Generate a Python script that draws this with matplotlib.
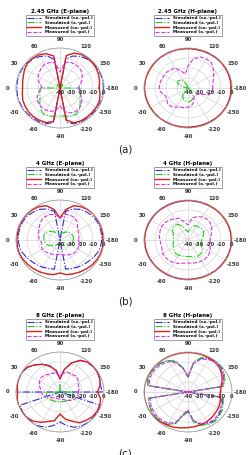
import numpy as np
import matplotlib.pyplot as plt
from matplotlib.transforms import offset_copy

# angle grid (deg), 0 at left, clockwise to 90 on top
angles = np.arange(-180, 190, 10)

# ---- 2.45 GHz E-plane ----
e245_sim_co = [-0.5, -0.6, -0.5, -0.5, -0.7, -1.0, -1.2, -1.8, -5, -40, -5, -1.8, -1.2, -1.0, -0.7, -0.5, -0.5, -0.6,
               -0.8, -0.6, -0.5, -0.6, -1.0, -2, -3.5, -6, -11, -40, -11, -6, -3.5, -2, -1.0, -0.6, -0.5, -0.6, -0.5]
e245_sim_x = [-22, -21.5, -20.5, -19, -16, -12.5, -10, -10.2, -11.5, -12, -11.5, -10.2, -10, -12.5, -16, -19, -20.5, -21.5,
              -22, -40, -40, -40, -38, -36, -36, -38, -40, -40, -40, -38, -36, -36, -38, -40, -40, -40, -22]
e245_meas_co = [-4.4, -3, -2, -1.8, -2, -2, -2, -3, -7.5, -40, -6, -3.2, -2.6, -2.5, -2.8, -3.4, -4, -5.2,
                -6, -5.5, -4.5, -2.8, -1.5, -1.2, -1.6, -3.5, -7.5, -40, -7, -3, -1.2, -1, -1.2, -1.6, -2.5, -3.5, -4.4]
e245_meas_x = [-23, -22, -20, -17, -14.5, -13, -12.5, -13.5, -16, -22, -17, -15, -14.5, -14.5, -15, -16, -18, -21,
               -24, -22, -19, -17, -15.5, -13.5, -12.5, -12.8, -14, -24, -14, -12.5, -12.5, -13, -14.5, -16.5, -19, -21.5, -23]

# ---- 2.45 GHz H-plane ----
h245_sim_co = [-0.3, -0.3, -0.2, -0.2, -0.3, -0.3, -0.4, -0.4, -0.3, -0.3, -0.2, -0.2, -0.3, -0.3, -0.3, -0.4, -0.3, -0.3,
               -0.2, -0.2, -0.3, -0.3, -0.4, -0.3, -0.3, -0.2, -0.3, -0.3, -0.4, -0.4, -0.3, -0.3, -0.2, -0.3, -0.3, -0.3, -0.3]
h245_sim_x = [-40, -40, -40, -40, -40, -34, -30.5, -28, -26.5, -26, -26.5, -28, -30, -33, -40, -40, -40, -40,
              -40, -36, -31, -29, -28.5, -29.5, -32, -36, -40, -40, -40, -40, -40, -40, -40, -40, -40, -40, -40]
h245_meas_co = [-0.8, -0.7, -0.6, -0.5, -0.5, -0.6, -0.7, -0.8, -0.8, -0.7, -0.6, -0.5, -0.4, -0.4, -0.5, -0.6, -0.6, -0.5,
                -0.4, -0.4, -0.5, -0.6, -0.6, -0.5, -0.4, -0.4, -0.5, -0.6, -0.7, -0.7, -0.6, -0.5, -0.5, -0.6, -0.7, -0.8, -0.8]
h245_meas_x = [-17.5, -17.5, -20, -28, -30, -30, -29, -25, -22, -21, -20, -19.5, -18, -16, -15.5, -18, -18, -15,
               -14, -14, -14.5, -15, -15, -16, -17, -22, -26, -18, -10, -7, -6.5, -7, -10, -13, -15.5, -17, -17.5]

# ---- 4 GHz E-plane ----
e4_sim_co = [-2, -2.5, -3.5, -5, -6.5, -7.5, -8.5, -9.5, -10.5, -40, -10.5, -9.5, -8.5, -7.5, -6.5, -5, -3.5, -2.5,
             -2, -1.8, -1.5, -1.5, -2, -3, -4.5, -7, -11, -40, -11, -7, -4.5, -3, -2, -1.5, -1.5, -1.8, -2]
e4_sim_x = [-28, -28, -28.5, -29.5, -31, -33, -34, -34.5, -35, -35, -35, -34.5, -34, -33, -31, -29, -27, -26,
            -25.5, -25, -24.5, -25, -26.5, -29, -31, -32.5, -33, -33, -33, -32.5, -31, -29.5, -28.5, -28, -27.5, -27.5, -28]
e4_meas_co = [-0.9, -0.6, -0.7, -1, -1.6, -2.4, -3.2, -4, -4.8, -7, -4.8, -4, -3.2, -2.5, -1.8, -1.2, -0.7, -0.6,
              -0.9, -0.7, -0.5, -0.3, -0.3, -0.6, -1.5, -3.5, -9, -18, -9, -3.5, -1.5, -0.5, -0.2, -0.2, -0.4, -0.7, -0.9]
e4_meas_x = [-23, -22.5, -22, -21.5, -21.5, -22, -23, -24, -25, -26, -25, -24.5, -24, -23, -22, -21.5, -22, -23,
             -22, -20, -19, -18, -16, -14, -13, -13, -14, -18, -14, -13.5, -14, -16, -19, -21, -22, -22.5, -23]

# ---- 4 GHz H-plane ----
h4_sim_co = [-0.3, -0.2, -0.2, -0.3, -0.4, -0.3, -0.2, -0.2, -0.3, -0.3, -0.2, -0.1, -0.2, -0.3, -0.3, -0.2, -0.2, -0.3,
             -0.3, -0.4, -0.4, -0.3, -0.3, -0.4, -0.5, -0.4, -0.3, -0.3, -0.4, -0.5, -0.4, -0.3, -0.3, -0.2, -0.2, -0.3, -0.3]
h4_sim_x = [-27.6, -27.6, -27, -25, -23, -22, -21.6, -22, -23, -23.6, -23.5, -23, -22.5, -22.5, -23.5, -25, -25.5, -26.5,
            -27, -26.5, -26, -24, -22, -21, -22, -25, -30, -32, -28, -25, -24, -23.5, -23, -23.5, -25, -27, -27.6]
h4_meas_co = [-0.6, -0.5, -0.5, -0.6, -0.6, -0.5, -0.5, -0.6, -0.7, -0.6, -0.5, -0.5, -0.6, -0.6, -0.5, -0.5, -0.6, -0.6,
              -0.5, -0.5, -0.6, -0.6, -0.5, -0.5, -0.6, -0.7, -0.6, -0.5, -0.5, -0.6, -0.6, -0.5, -0.5, -0.6, -0.6, -0.6, -0.6]
h4_meas_x = [-20, -19.5, -18.4, -17, -15.8, -15.5, -15.5, -16, -16.5, -17, -16.5, -15, -14, -13.2, -13, -13.5, -14.8, -15,
             -14.5, -13.5, -13, -12.5, -12.8, -14, -15.5, -16.8, -22, -25, -17.6, -15, -13.5, -12.8, -13.5, -15, -17, -19, -20]

# ---- 8 GHz E-plane ----
e8_sim_co = [-1.5, -40, -1.5, -0.5, -0.3, -0.3, -0.8, -2.5, -6, -10, -6, -2.5, -0.8, -0.3, -0.3, -0.5, -1.5, -40,
             -1, -0.5, -0.2, -0.3, -1.5, -4.5, -8, -12, -17, -26, -17, -9, -3.5, -1.2, -0.7, -0.7, -1.5, -2.5, -1.5]
e8_sim_x = [-28, -28, -27, -27, -28, -29, -29.5, -30, -30, -30, -30, -30, -29.5, -29, -28, -27, -27, -27.5,
            -28, -40, -40, -40, -40, -40, -40, -40, -40, -33, -40, -40, -40, -40, -40, -40, -40, -40, -28]
e8_meas_co = [-6, -2.5, -1.5, -1.2, -1.5, -3, -4.5, -9, -12.5, -18, -11, -8.5, -5, -2, -0.5, 0, 0, -0.5,
              -1.5, -0.5, 0, 0, -1.5, -4.5, -8, -12.5, -18, -27, -17, -9, -3.5, -1, -0.5, -0.5, -1.5, -3, -6]
e8_meas_x = [-23, -23.5, -24, -25, -27, -29, -31, -32, -33, -33, -33, -33, -33, -32, -31, -29, -27, -24,
             -23, -22, -20, -18.5, -17.5, -18, -19.5, -20, -21, -24, -21, -19, -19.5, -18.5, -19, -21, -22, -22.5, -23]

# ---- 8 GHz H-plane ----
h8_sim_co = [-40, -8, -6.5, -5, -3.5, -2.5, -3.5, -5.5, -10, -21, -17, -6.5, -2.5, -1.6, -1.4, -1.8, -2.5, -3.5,
             -40, -3, -1.2, -1, -1.2, -2, -3.5, -7.5, -16, -25, -10, -4, -1.5, -0.5, -1, -2.8, -5, -7.6, -40]
h8_sim_x = [-40, -7.5, -6, -4, -2.8, -1.8, -2.5, -4.5, -9, -20, -16, -6.5, -2.5, -1.6, -1.4, -1.8, -2.5, -3.5,
            -40, -3, -1.2, -1, -1.2, -2, -3.5, -7.5, -16, -24, -9, -3, -0.8, -0.2, -0.5, -2, -4.5, -7, -40]
h8_meas_co = [-10.5, -10, -9, -8, -7.5, -6.5, -5.8, -5.2, -4.8, -4.4, -3.5, -2.5, -1.8, -1, -0.3, 0, 0, 0,
              0, 0, 0, 0, 0, -0.2, -0.3, -0.5, -0.5, -0.5, -0.5, -0.7, -1, -1.5, -2.5, -4.5, -7, -9.5, -10.5]
h8_meas_x = [-40, -9, -7.5, -6, -4.5, -3.5, -4.5, -6.5, -11, -22, -18, -8, -4, -3, -3, -3.3, -4, -5,
             -40, -4.5, -2.7, -2.5, -2.7, -3.5, -5, -9, -17, -25, -11, -5, -2.5, -1.5, -2, -3.5, -5.5, -8.5, -40]

titles = ['2.45 GHz (E-plane)', '2.45 GHz (H-plane)', '4 GHz (E-plane)', '4 GHz (H-plane)',
          '8 GHz (E-plane)', '8 GHz (H-plane)']
panels = [(e245_sim_co, e245_sim_x, e245_meas_co, e245_meas_x),
          (h245_sim_co, h245_sim_x, h245_meas_co, h245_meas_x),
          (e4_sim_co, e4_sim_x, e4_meas_co, e4_meas_x),
          (h4_sim_co, h4_sim_x, h4_meas_co, h4_meas_x),
          (e8_sim_co, e8_sim_x, e8_meas_co, e8_meas_x),
          (h8_sim_co, h8_sim_x, h8_meas_co, h8_meas_x)]
labels = ['Simulated (co.-pol.)', 'Simulated (x.-pol.)', 'Measured (co.-pol.)', 'Measured (x.-pol.)']
styles = [dict(color='#2b2bd6', ls='-.', lw=0.8),
          dict(color='#1fd01f', ls='-.', lw=0.8),
          dict(color='#d81e1e', ls='-', lw=1.0),
          dict(color='#e02ee0', ls='--', lw=0.8)]
theta_ticks = [0, 30, 60, 90, 120, 150, 180, 210, 240, 270, 300, 330]
theta_labels = ['0', '30', '60', '90', '120', '150', '-180', '-150', '-120', '-90', '-60', '-30']
r_ticks = [-40, -30, -20, -10, 0]
sub_labels = ['(a)', '(b)', '(c)']

W, H = 250, 455
fig = plt.figure(figsize=(W / 100, H / 100), dpi=100)

col_cx = [60, 188]
row_cy = [88, 240, 392]
hw, hh = 44, 40
th = np.deg2rad(angles)

for i, data in enumerate(panels):
    cx = col_cx[i % 2]
    cy = row_cy[i // 2]
    ax = fig.add_axes([(cx - hw) / W, 1 - (cy + hh) / H, 2 * hw / W, 2 * hh / H], projection='polar')
    ax.set_aspect('auto')
    ax.set_theta_zero_location('W')
    ax.set_theta_direction(-1)
    for vals, st, lab in zip(data, styles, labels):
        ax.plot(th, vals, label=lab, **st)
    ax.set_rlim(-40, 0)
    ax.set_rticks(r_ticks)
    ax.set_yticklabels([])
    ax.set_thetagrids(theta_ticks, theta_labels)
    ax.tick_params(axis='x', labelsize=3.8, pad=-4.5, colors='#333333')
    for t in ax.get_xticklabels():
        t.set_fontweight('bold')
    ax.grid(color='#d4d4d4', lw=0.5)
    ax.spines['polar'].set_color('#a0a0a0')
    ax.spines['polar'].set_linewidth(0.6)
    off = offset_copy(ax.transData, fig=fig, x=0, y=-5, units='dots')
    for r in r_ticks:
        ax.text(np.pi, r, str(r), transform=off, ha='center', va='center',
                fontsize=3.6, fontweight='bold', color='#333333')
    ax.text(0.5, 1.455, titles[i], transform=ax.transAxes, ha='center', va='center',
            fontsize=4.0, fontweight='bold')
    leg = ax.legend(loc='upper center', bbox_to_anchor=(0.5, 1.415), frameon=True,
                    handlelength=3.4, handletextpad=0.9, labelspacing=0.18, borderpad=0.28,
                    borderaxespad=0, fancybox=False, prop={'size': 3.1, 'weight': 'bold'})
    leg.get_frame().set_edgecolor('#555555')
    leg.get_frame().set_linewidth(0.5)
    leg.set_zorder(1)

for k, s in enumerate(sub_labels):
    fig.text(125 / W, 1 - (150 + 152 * k) / H, s, ha='center', va='center', fontsize=7.5, color='#222222')

fig.savefig('out.png', dpi=100)
